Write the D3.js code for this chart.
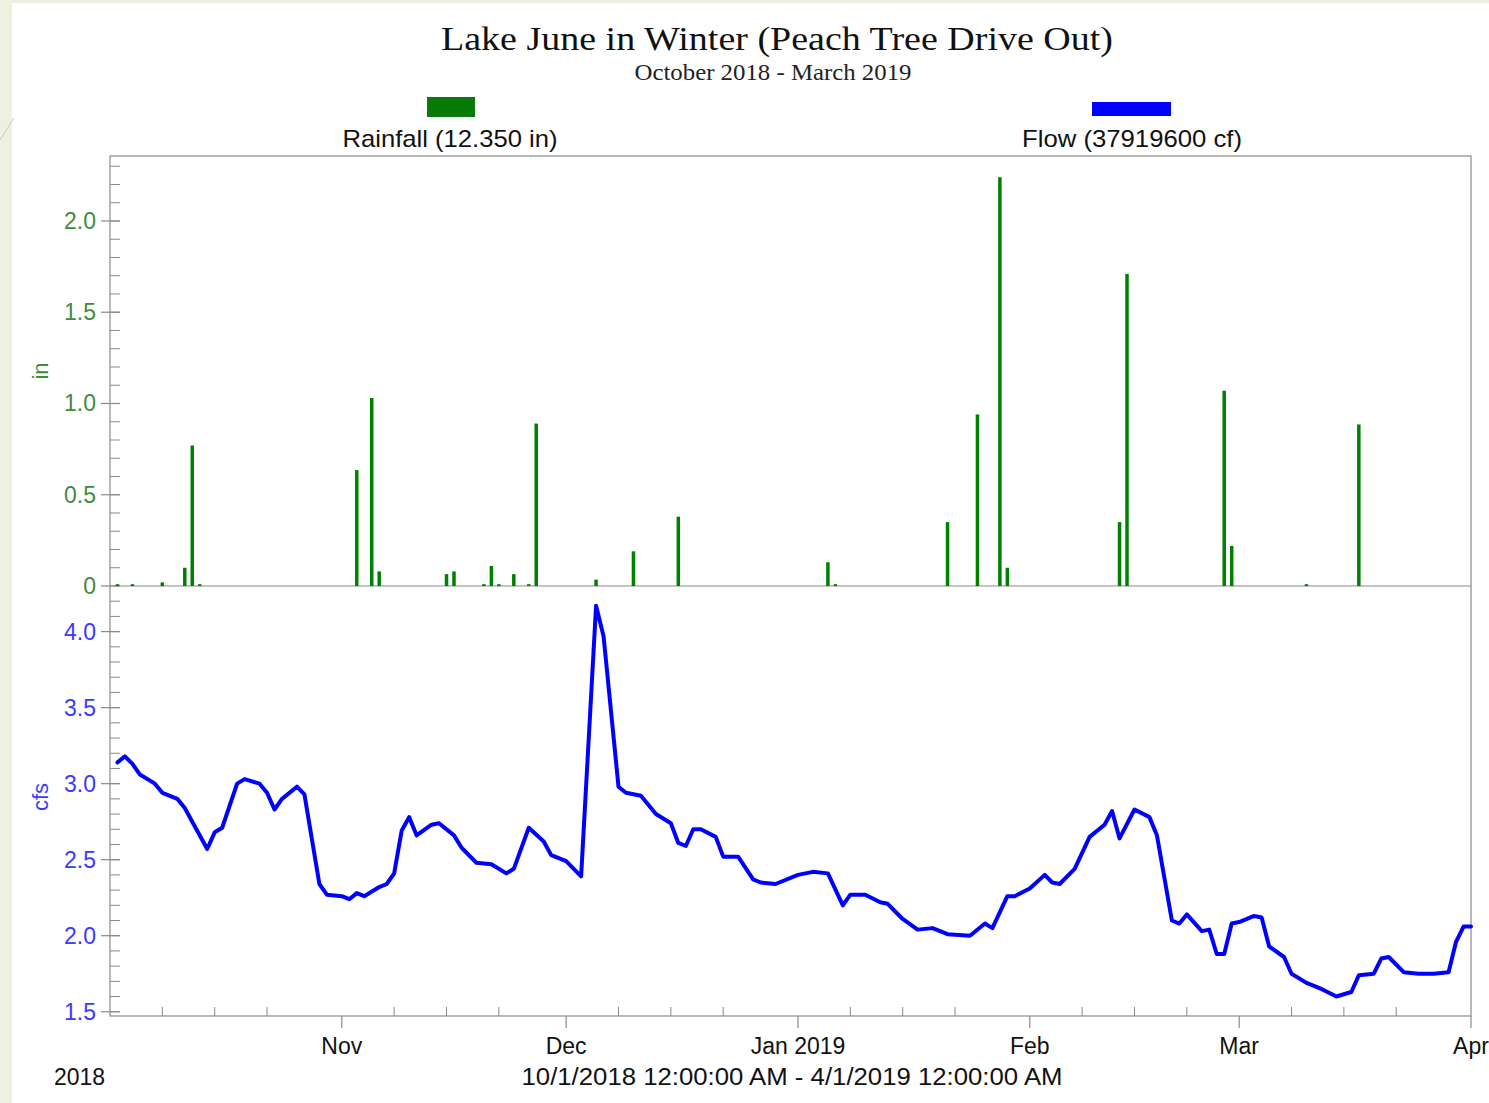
<!DOCTYPE html>
<html><head><meta charset="utf-8">
<script src="https://cdn.jsdelivr.net/npm/d3@7"></script>
<style>
html,body{margin:0;padding:0;background:#eef1df;}
svg{display:block;}
</style></head>
<body>
<svg id="chart" width="1489" height="1103"></svg>
<script>
const title = "Lake June in Winter (Peach Tree Drive Out)";
const subtitle = "October 2018 - March 2019";
const rainLegend = "Rainfall (12.350 in)";
const flowLegend = "Flow (37919600 cf)";
const rangeLabel = "10/1/2018 12:00:00 AM - 4/1/2019 12:00:00 AM";

const rainDates = ["2018-10-02","2018-10-04","2018-10-08","2018-10-11","2018-10-12","2018-10-13",
  "2018-11-03","2018-11-05","2018-11-06","2018-11-15","2018-11-16","2018-11-20","2018-11-21","2018-11-22",
  "2018-11-24","2018-11-26","2018-11-27","2018-12-05","2018-12-10","2018-12-16","2019-01-05","2019-01-06",
  "2019-01-21","2019-01-25","2019-01-28","2019-01-29","2019-02-13","2019-02-14","2019-02-27","2019-02-28",
  "2019-03-10","2019-03-17"];
const rainValues = [0.01,0.01,0.02,0.10,0.77,0.01,
  0.635,1.03,0.08,0.065,0.08,0.01,0.11,0.01,
  0.065,0.01,0.89,0.035,0.19,0.38,0.13,0.01,
  0.35,0.94,2.24,0.10,0.35,1.71,1.07,0.22,
  0.01,0.885];

const flowDates = ["2018-10-02","2018-10-03","2018-10-04","2018-10-05","2018-10-07","2018-10-08","2018-10-10",
  "2018-10-11","2018-10-12","2018-10-14","2018-10-15","2018-10-16","2018-10-18","2018-10-19","2018-10-21",
  "2018-10-22","2018-10-23","2018-10-24","2018-10-26","2018-10-27","2018-10-29","2018-10-30","2018-11-01",
  "2018-11-02","2018-11-03","2018-11-04","2018-11-06","2018-11-07","2018-11-08","2018-11-09","2018-11-10",
  "2018-11-11","2018-11-13","2018-11-14","2018-11-16","2018-11-17","2018-11-19","2018-11-21","2018-11-23",
  "2018-11-24","2018-11-26","2018-11-28","2018-11-29","2018-12-01","2018-12-03","2018-12-05","2018-12-06",
  "2018-12-08","2018-12-09","2018-12-11","2018-12-13","2018-12-15","2018-12-16","2018-12-17","2018-12-18",
  "2018-12-19","2018-12-21","2018-12-22","2018-12-24","2018-12-26","2018-12-27","2018-12-29","2019-01-01",
  "2019-01-03","2019-01-05","2019-01-07","2019-01-08","2019-01-10","2019-01-12","2019-01-13","2019-01-15",
  "2019-01-17","2019-01-19","2019-01-21","2019-01-24","2019-01-26","2019-01-27","2019-01-29","2019-01-30",
  "2019-02-01","2019-02-03","2019-02-04","2019-02-05","2019-02-07","2019-02-09","2019-02-11","2019-02-12",
  "2019-02-13","2019-02-15","2019-02-17","2019-02-18","2019-02-20","2019-02-21","2019-02-22","2019-02-24",
  "2019-02-25","2019-02-26","2019-02-27","2019-02-28","2019-03-01","2019-03-03","2019-03-04","2019-03-05",
  "2019-03-07","2019-03-08","2019-03-10","2019-03-12","2019-03-14","2019-03-16","2019-03-17","2019-03-19",
  "2019-03-20","2019-03-21","2019-03-23","2019-03-25","2019-03-27","2019-03-29","2019-03-30","2019-03-31",
  "2019-04-01"];
const flowValues = [3.14,3.18,3.13,3.06,3.00,2.94,2.90,
  2.84,2.75,2.57,2.68,2.71,3.00,3.03,3.00,
  2.94,2.83,2.90,2.98,2.93,2.34,2.27,2.26,
  2.24,2.28,2.26,2.32,2.34,2.41,2.69,2.78,
  2.66,2.73,2.74,2.66,2.58,2.48,2.47,2.41,
  2.44,2.71,2.62,2.53,2.49,2.39,4.17,3.97,
  2.98,2.94,2.92,2.80,2.74,2.61,2.59,2.70,
  2.70,2.65,2.52,2.52,2.37,2.35,2.34,2.40,
  2.42,2.41,2.20,2.27,2.27,2.22,2.21,2.11,
  2.04,2.05,2.01,2.00,2.08,2.05,2.26,2.26,
  2.31,2.40,2.35,2.34,2.44,2.65,2.73,2.82,
  2.64,2.83,2.78,2.66,2.10,2.08,2.14,2.03,
  2.04,1.88,1.88,2.08,2.09,2.13,2.12,1.93,
  1.86,1.75,1.69,1.65,1.60,1.63,1.74,1.75,
  1.85,1.86,1.76,1.75,1.75,1.76,1.96,2.06,
  2.06];

const monthTickDates = ["2018-11-01","2018-12-01","2019-01-01","2019-02-01","2019-03-01","2019-04-01"];
const monthTickLabels = ["Nov","Dec","Jan 2019","Feb","Mar","Apr"];
const minorTickDays = [8,15,22];
const rainMajorTicks = [0,0.5,1.0,1.5,2.0];
const flowMajorTicks = [1.5,2.0,2.5,3.0,3.5,4.0];

const parse = d3.timeParse("%Y-%m-%d");
const svg = d3.select("#chart");

// white page
svg.append("rect").attr("x",12).attr("y",3).attr("width",1477).attr("height",1100).attr("fill","#ffffff");
svg.append("line").attr("x1",0).attr("y1",140).attr("x2",14).attr("y2",118).attr("stroke","#c8ccc0").attr("stroke-width",1);

const L = 110, R = 1471, T = 156, MID = 586, B = 1016;
const x = d3.scaleTime().domain([parse("2018-10-01"), parse("2019-04-01")]).range([L, R]);
const yRain = d3.scaleLinear().domain([0, 2.356]).range([MID, T]);
const yFlow = d3.scaleLinear().domain([1.472, 4.30]).range([B, MID]);

const axisColor = "#8a8a8a";
const greenTxt = "#3d8c3d";
const blueTxt = "#3a3aff";
const sans = "'Liberation Sans', Arial, sans-serif";
const serif = "'Liberation Serif', 'Times New Roman', serif";

// Titles
svg.append("text").attr("x",777).attr("y",50).attr("text-anchor","middle")
  .attr("font-family",serif).attr("font-size",34).attr("fill","#111")
  .attr("textLength",672).attr("lengthAdjust","spacingAndGlyphs").text(title);
svg.append("text").attr("x",773).attr("y",80).attr("text-anchor","middle")
  .attr("font-family",serif).attr("font-size",23).attr("fill","#222")
  .attr("textLength",277).attr("lengthAdjust","spacingAndGlyphs").text(subtitle);

// Legend
svg.append("rect").attr("x",427).attr("y",97).attr("width",48).attr("height",20).attr("fill","#077a07");
svg.append("text").attr("x",450).attr("y",147).attr("text-anchor","middle")
  .attr("font-family",sans).attr("font-size",24).attr("fill","#111")
  .attr("textLength",215).attr("lengthAdjust","spacingAndGlyphs").text(rainLegend);
svg.append("rect").attr("x",1092).attr("y",102).attr("width",79).attr("height",14).attr("fill","#0000ff");
svg.append("text").attr("x",1132).attr("y",147).attr("text-anchor","middle")
  .attr("font-family",sans).attr("font-size",24).attr("fill","#111")
  .attr("textLength",220).attr("lengthAdjust","spacingAndGlyphs").text(flowLegend);

// Plot frame
const g = svg.append("g");
g.append("rect").attr("x",L).attr("y",T).attr("width",R-L).attr("height",B-T)
  .attr("fill","none").attr("stroke",axisColor).attr("stroke-width",1.2);
g.append("line").attr("x1",L).attr("x2",R).attr("y1",MID).attr("y2",MID).attr("stroke",axisColor).attr("stroke-width",1.2);

// Y ticks rain
const rainMinor = d3.range(1, 24).map(i => i/10).filter(v => yRain(v) > T + 2);
g.selectAll(".rmin").data(rainMinor).join("line")
  .attr("x1",L).attr("x2",L+10).attr("y1",d=>yRain(d)).attr("y2",d=>yRain(d))
  .attr("stroke",axisColor).attr("stroke-width",1);
g.selectAll(".rmaj").data(rainMajorTicks).join("line")
  .attr("x1",L-9).attr("x2",L+10).attr("y1",d=>yRain(d)).attr("y2",d=>yRain(d))
  .attr("stroke",axisColor).attr("stroke-width",1.2);
g.selectAll(".rlab").data(rainMajorTicks).join("text")
  .attr("x",L-14).attr("y",d=>yRain(d)+8).attr("text-anchor","end")
  .attr("font-family",sans).attr("font-size",23).attr("fill",greenTxt)
  .text(d => d === 0 ? "0" : d3.format(".1f")(d));

// Y ticks flow
const flowMinor = d3.range(15, 43).map(i => i/10).filter(v => yFlow(v) > MID + 2 && yFlow(v) < B - 1);
g.selectAll(".fmin").data(flowMinor).join("line")
  .attr("x1",L).attr("x2",L+10).attr("y1",d=>yFlow(d)).attr("y2",d=>yFlow(d))
  .attr("stroke",axisColor).attr("stroke-width",1);
g.selectAll(".fmaj").data(flowMajorTicks).join("line")
  .attr("x1",L-9).attr("x2",L+10).attr("y1",d=>yFlow(d)).attr("y2",d=>yFlow(d))
  .attr("stroke",axisColor).attr("stroke-width",1.2);
g.selectAll(".flab").data(flowMajorTicks).join("text")
  .attr("x",L-14).attr("y",d=>yFlow(d)+8).attr("text-anchor","end")
  .attr("font-family",sans).attr("font-size",23).attr("fill",blueTxt)
  .text(d => d3.format(".1f")(d));

// Axis titles
svg.append("text").attr("transform","translate(48,371) rotate(-90)").attr("text-anchor","middle")
  .attr("font-family",sans).attr("font-size",22).attr("fill",greenTxt).text("in");
svg.append("text").attr("transform","translate(48,797) rotate(-90)").attr("text-anchor","middle")
  .attr("font-family",sans).attr("font-size",22).attr("fill",blueTxt).text("cfs");

// X ticks
const minorDates = [];
["2018-10","2018-11","2018-12","2019-01","2019-02","2019-03"].forEach(m => {
  minorTickDays.forEach(d => minorDates.push(parse(m + "-" + String(d).padStart(2,"0"))));
});
g.selectAll(".xmin").data(minorDates).join("line")
  .attr("x1",d=>x(d)).attr("x2",d=>x(d)).attr("y1",B).attr("y2",B-9)
  .attr("stroke",axisColor).attr("stroke-width",1);
const mDates = monthTickDates.map(parse);
g.selectAll(".xmaj").data(mDates).join("line")
  .attr("x1",d=>x(d)).attr("x2",d=>x(d)).attr("y1",B).attr("y2",B+12)
  .attr("stroke",axisColor).attr("stroke-width",1.2);
g.selectAll(".xlab").data(mDates).join("text")
  .attr("x",d=>x(d)).attr("y",B+38).attr("text-anchor","middle")
  .attr("font-family",sans).attr("font-size",23).attr("fill","#111")
  .text((d,i)=>monthTickLabels[i]);
svg.append("text").attr("x",54).attr("y",1085)
  .attr("font-family",sans).attr("font-size",23).attr("fill","#111").text("2018");
svg.append("text").attr("x",792).attr("y",1085).attr("text-anchor","middle")
  .attr("font-family",sans).attr("font-size",23).attr("fill","#111")
  .attr("textLength",541).attr("lengthAdjust","spacingAndGlyphs").text(rangeLabel);

// Rain bars
const rain = rainDates.map((d,i)=>({date:parse(d), v:rainValues[i]}));
g.selectAll(".bar").data(rain).join("rect")
  .attr("x",d=>x(d.date)-1.75).attr("width",3.5)
  .attr("y",d=>yRain(d.v)).attr("height",d=>Math.max(0.8, MID - yRain(d.v)))
  .attr("fill","#008000");

// Flow line
const flow = flowDates.map((d,i)=>({date:parse(d), v:flowValues[i]}));
g.append("path").datum(flow)
  .attr("d", d3.line().x(d=>x(d.date)).y(d=>yFlow(d.v)))
  .attr("fill","none").attr("stroke","#0000ff").attr("stroke-width",4)
  .attr("stroke-linejoin","round").attr("stroke-linecap","round");
</script>
</body></html>
